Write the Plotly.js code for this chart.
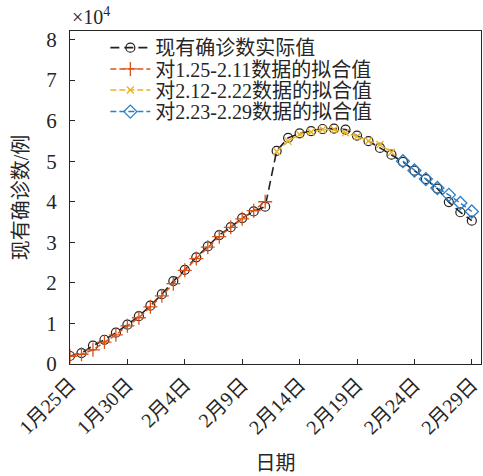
<!DOCTYPE html>
<html>
<head>
<meta charset="utf-8">
<script src="https://cdn.plot.ly/plotly-3.0.1.min.js"></script>
<style>html,body{margin:0;padding:0;background:#fff;}#chart{width:483px;height:476px;}</style>
</head>
<body>
<div id="chart"></div>
<script>
const dates = ['2020-01-25','2020-01-26','2020-01-27','2020-01-28','2020-01-29','2020-01-30','2020-01-31',
  '2020-02-01','2020-02-02','2020-02-03','2020-02-04','2020-02-05','2020-02-06','2020-02-07','2020-02-08',
  '2020-02-09','2020-02-10','2020-02-11','2020-02-12','2020-02-13','2020-02-14','2020-02-15','2020-02-16',
  '2020-02-17','2020-02-18','2020-02-19','2020-02-20','2020-02-21','2020-02-22','2020-02-23','2020-02-24',
  '2020-02-25','2020-02-26','2020-02-27','2020-02-28','2020-02-29'];
const actual = [1975,2684,4515,5974,7711,9692,11791,14380,17205,20438,23214,26302,28985,31774,33738,35982,37626,38800,
  52526,55748,56873,57416,57934,58016,57805,56303,54965,53284,51606,49824,47672,45604,43258,39919,37414,35329];
const fit1 = [1900,2400,3500,5400,7200,9400,11400,14100,16800,19800,23100,26000,28800,31400,33700,35800,37800,40000];
const fit2 = [52400,54900,56600,57200,57800,57800,57000,56100,55000,54100,52200];
const fit3 = [50000,47700,45600,43400,41700,39700,37600];
const names = ['现有确诊数实际值','对1.25-2.11数据的拟合值','对2.12-2.22数据的拟合值','对2.23-2.29数据的拟合值'];
const xTickVals = ['2020-01-25','2020-01-30','2020-02-04','2020-02-09','2020-02-14','2020-02-19','2020-02-24','2020-02-29'];
const xTickText = ['1月25日','1月30日','2月4日','2月9日','2月14日','2月19日','2月24日','2月29日'];
const yTickVals = [0,10000,20000,30000,40000,50000,60000,70000,80000];
const yTickText = ['0','1','2','3','4','5','6','7','8'];

const FONT = 'Liberation Serif, Noto Sans CJK SC, serif';
const TXT = '#262626';
const traces = [
  {x: dates, y: actual, name: names[0], type: 'scatter', mode: 'lines+markers', legend: 'legend',
   line: {color: '#222222', width: 1.6, dash: '9px,5px'},
   marker: {symbol: 'circle-open', size: 9, color: '#222222', line: {width: 1.2}}},
  {x: dates.slice(0, 18), y: fit1, name: names[1], type: 'scatter', mode: 'lines+markers', legend: 'legend2',
   line: {color: '#D95319', width: 1.5, dash: '6px,3px'},
   marker: {symbol: 'cross-thin-open', size: 10, color: '#D95319', line: {width: 1.3, color: '#D95319'}}},
  {x: dates.slice(18, 29), y: fit2, name: names[2], type: 'scatter', mode: 'lines+markers', legend: 'legend3',
   line: {color: '#EDB120', width: 1.5, dash: '6px,3px'},
   marker: {symbol: 'x-thin-open', size: 7, color: '#EDB120', line: {width: 1.3, color: '#EDB120'}}},
  {x: dates.slice(29), y: fit3, name: names[3], type: 'scatter', mode: 'lines+markers', legend: 'legend4',
   line: {color: '#2E7EC6', width: 1.5, dash: '6px,3px'},
   marker: {symbol: 'diamond-open', size: 10, color: '#2E7EC6', line: {width: 1.3}}}
];

function leg(yv) {
  return {x: 0.086, y: yv, xanchor: 'left', yanchor: 'middle', bgcolor: 'rgba(0,0,0,0)',
          font: {family: FONT, size: 20, color: TXT}, itemwidth: 40, borderwidth: 0};
}

const layout = {
  width: 483, height: 476,
  margin: {l: 70, r: 2, t: 31, b: 112},
  paper_bgcolor: '#fff', plot_bgcolor: '#fff',
  font: {family: FONT, size: 20, color: TXT},
  showlegend: true,
  legend: leg(0.950), legend2: leg(0.886), legend3: leg(0.823), legend4: leg(0.758),
  xaxis: {type: 'date', range: ['2020-01-25', '2020-02-29 19:12'],
          tickvals: xTickVals, ticktext: xTickText, tickangle: -45,
          ticks: 'inside', ticklen: 5, tickcolor: TXT, showgrid: false, zeroline: false,
          showline: true, mirror: true, linecolor: TXT, linewidth: 1,
          tickfont: {family: FONT, size: 20, color: TXT},
          title: {text: '日期', font: {family: FONT, size: 20, color: TXT}, standoff: 18}},
  yaxis: {range: [0, 82100], tickvals: yTickVals, ticktext: yTickText,
          ticks: 'inside', ticklen: 5, tickcolor: TXT, showgrid: false, zeroline: false,
          showline: true, mirror: true, linecolor: TXT, linewidth: 1, ticklabelstandoff: 8,
          tickfont: {family: FONT, size: 21, color: TXT},
          title: {text: '现有确诊数/例', font: {family: FONT, size: 20, color: TXT}, standoff: 12}},
  annotations: [{xref: 'paper', yref: 'paper', x: 0, y: 1, xanchor: 'left', yanchor: 'bottom',
                 showarrow: false, text: '×10<sup>4</sup>', yshift: 1,
                 font: {family: FONT, size: 20, color: TXT}}]
};
Plotly.newPlot('chart', traces, layout, {displayModeBar: false, staticPlot: true});
</script>
</body>
</html>
